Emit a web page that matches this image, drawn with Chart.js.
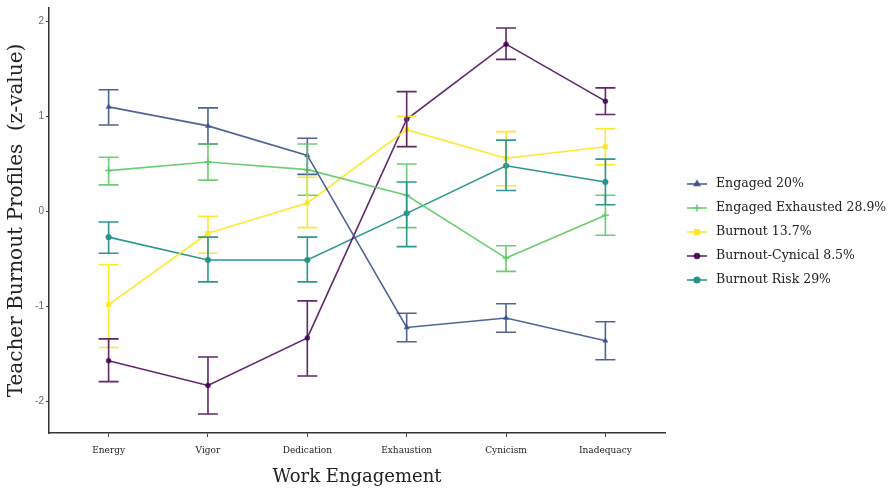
<!DOCTYPE html>
<html>
<head>
<meta charset="utf-8">
<script src="https://cdn.jsdelivr.net/npm/chart.js@4.4.1/dist/chart.umd.min.js"></script>
<style>
  html, body { margin: 0; padding: 0; background: #fff; }
  #wrap { width: 892px; height: 493px; }
</style>
</head>
<body>
<div id="wrap"><canvas id="profiles"></canvas></div>
<script>
// Work engagement / burnout dimensions
const dims = ['Energy', 'Vigor', 'Dedication', 'Exhaustion', 'Cynicism', 'Inadequacy'];
const yTicks = [-2, -1, 0, 1, 2];

// Profile means (z-values) with lower / upper error bar limits
const engaged     = [1.10, 0.90, 0.59, -1.22, -1.12, -1.36];
const engagedLo   = [0.91, 0.71, 0.39, -1.37, -1.27, -1.56];
const engagedHi   = [1.28, 1.09, 0.77, -1.07, -0.97, -1.16];

const engExh      = [0.43, 0.52, 0.44, 0.17, -0.49, -0.04];
const engExhLo    = [0.28, 0.33, 0.17, -0.17, -0.63, -0.25];
const engExhHi    = [0.57, 0.71, 0.71, 0.50, -0.36, 0.17];

const burnout     = [-0.98, -0.23, 0.09, 0.86, 0.56, 0.68];
const burnoutLo   = [-1.43, -0.44, -0.17, 0.69, 0.27, 0.49];
const burnoutHi   = [-0.56, -0.05, 0.36, 1.00, 0.84, 0.87];

const cynical     = [-1.57, -1.83, -1.33, 0.97, 1.76, 1.16];
const cynicalLo   = [-1.79, -2.13, -1.73, 0.68, 1.60, 1.02];
const cynicalHi   = [-1.34, -1.53, -0.94, 1.26, 1.93, 1.30];

const risk        = [-0.27, -0.51, -0.51, -0.02, 0.48, 0.31];
const riskLo      = [-0.44, -0.74, -0.74, -0.37, 0.22, 0.07];
const riskHi      = [-0.11, -0.27, -0.27, 0.31, 0.75, 0.55];

const toPoints = (arr) => arr.map((v, i) => ({x: i, y: v}));

function series(label, vals, lo, hi, color, style, radius) {
  return {
    label: label,
    data: toPoints(vals),
    lo: lo,
    hi: hi,
    borderColor: color,
    backgroundColor: color,
    borderWidth: 1.6,
    pointStyle: style,
    pointRadius: radius,
    pointBorderWidth: style === 'cross' ? 1.5 : 0.5,
    tension: 0
  };
}

// vertical error bars with caps, drawn through the chart scales
const errorBars = {
  id: 'errorBars',
  afterDatasetsDraw(chart) {
    const {ctx, scales: {x, y}} = chart;
    ctx.save();
    chart.data.datasets.forEach(ds => {
      ctx.strokeStyle = ds.borderColor;
      ctx.lineWidth = 1.6;
      ds.data.forEach((p, i) => {
        const px = x.getPixelForValue(p.x);
        const top = y.getPixelForValue(ds.hi[i]);
        const bot = y.getPixelForValue(ds.lo[i]);
        ctx.beginPath();
        ctx.moveTo(px, top); ctx.lineTo(px, bot);
        ctx.moveTo(px - 10, top); ctx.lineTo(px + 10, top);
        ctx.moveTo(px - 10, bot); ctx.lineTo(px + 10, bot);
        ctx.stroke();
      });
    });
    ctx.restore();
  }
};

// legend at the right: short line with the series marker, then label
const sideLegend = {
  id: 'sideLegend',
  afterDraw(chart) {
    const ctx = chart.ctx;
    const x0 = 687, rowY = [184, 208, 232, 256, 280];
    ctx.save();
    ctx.font = '12.5px "DejaVu Serif"';
    ctx.textBaseline = 'middle';
    chart.data.datasets.forEach((ds, i) => {
      const yy = rowY[i];
      ctx.strokeStyle = ds.borderColor;
      ctx.lineWidth = 1.6;
      ctx.beginPath();
      ctx.moveTo(x0, yy); ctx.lineTo(x0 + 20, yy);
      ctx.stroke();
      ctx.fillStyle = ds.borderColor;
      Chart.helpers.drawPoint(ctx, {
        pointStyle: ds.pointStyle, radius: ds.pointRadius, borderWidth: ds.pointBorderWidth, rotation: 0
      }, x0 + 10, yy);
      ctx.fillStyle = '#222';
      ctx.fillText(ds.label, x0 + 29, yy);
    });
    ctx.restore();
  }
};

new Chart(document.getElementById('profiles'), {
  type: 'line',
  data: {
    datasets: [
      series('Engaged 20%', engaged, engagedLo, engagedHi, 'rgba(59,82,139,0.9)', 'triangle', 3),
      series('Engaged Exhausted 28.9%', engExh, engExhLo, engExhHi, 'rgba(93,200,99,0.9)', 'cross', 3.5),
      series('Burnout 13.7%', burnout, burnoutLo, burnoutHi, 'rgba(253,231,37,0.95)', 'rect', 3.2),
      series('Burnout-Cynical 8.5%', cynical, cynicalLo, cynicalHi, 'rgba(68,1,84,0.85)', 'circle', 2.5),
      series('Burnout Risk 29%', risk, riskLo, riskHi, 'rgba(33,144,140,0.95)', 'circle', 2.8)
    ]
  },
  options: {
    responsive: true,
    maintainAspectRatio: false,
    animation: false,
    layout: { padding: { top: 5, right: 227, left: 0, bottom: 0 } },
    plugins: {
      legend: { display: false },
      tooltip: { enabled: false }
    },
    scales: {
      x: {
        type: 'linear',
        min: -0.6,
        max: 5.6,
        afterBuildTicks: (s) => { s.ticks = dims.map((_, i) => ({value: i})); },
        afterFit: (s) => { s.height = 60; },
        grid: { drawOnChartArea: false, tickLength: 4, color: '#444', lineWidth: 1 },
        border: { display: true, color: '#333', width: 1.5 },
        ticks: {
          callback: (v) => dims[v],
          color: '#222',
          font: { family: '"DejaVu Serif"', size: 9 },
          maxRotation: 0,
          autoSkip: false,
          padding: 8
        },
        title: {
          display: true,
          text: 'Work Engagement',
          color: '#222',
          font: { family: '"DejaVu Serif"', size: 18 },
          padding: { top: 2, bottom: 5 }
        }
      },
      y: {
        min: -2.33,
        max: 2.14,
        afterBuildTicks: (s) => { s.ticks = yTicks.map(v => ({value: v})); },
        afterFit: (s) => { s.width = 49; },
        grid: { drawOnChartArea: false, tickLength: 3, color: '#444', lineWidth: 1 },
        border: { display: true, color: '#333', width: 1.5 },
        ticks: {
          color: '#666',
          font: { family: '"Liberation Sans"', size: 10 },
          padding: 2
        },
        title: {
          display: true,
          text: 'Teacher Burnout Profiles  (z-value)',
          color: '#222',
          font: { family: '"DejaVu Serif"', size: 20 },
          padding: { top: 5, bottom: 0 }
        }
      }
    }
  },
  plugins: [errorBars, sideLegend]
});
</script>
</body>
</html>
